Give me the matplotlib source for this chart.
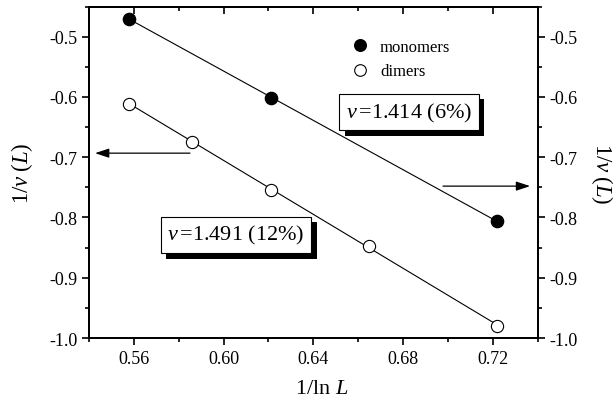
import numpy as np
import matplotlib
matplotlib.use("Agg")
import matplotlib.pyplot as plt
from matplotlib import patheffects
from matplotlib.ticker import MultipleLocator, FixedLocator

plt.rcParams['font.family'] = ['Liberation Serif', 'DejaVu Serif']
plt.rcParams['mathtext.fontset'] = 'custom'
plt.rcParams['mathtext.rm'] = 'Liberation Serif'
plt.rcParams['mathtext.it'] = 'Liberation Serif:italic'

# data
mono_x = [0.558, 0.621, 0.722]
mono_y = [-0.470, -0.602, -0.806]
dim_x = [0.558, 0.586, 0.621, 0.665, 0.722]
dim_y = [-0.611, -0.675, -0.754, -0.847, -0.980]
xticks = [0.56, 0.60, 0.64, 0.68, 0.72]
yticks = [-0.5, -0.6, -0.7, -0.8, -0.9, -1.0]
label_mono = r'$\nu\,$=1.414 (6%)'
label_dim = r'$\nu\,$=1.491 (12%)'
ylabel = r'1/$\nu\;(L)$'

fig = plt.figure(figsize=(6.14, 4.02), dpi=100)
ax = fig.add_axes([0.145, 0.1567, 0.8757 - 0.145, 0.9813 - 0.1567])

# fit lines
for xs, ys in [(mono_x, mono_y), (dim_x, dim_y)]:
    p = np.polyfit(xs, ys, 1)
    xx = np.array([min(xs), max(xs)])
    ax.plot(xx, np.polyval(p, xx), color='black', lw=0.8, zorder=2)

ax.plot(mono_x, mono_y, 'o', ms=8.8, mfc='black', mec='black', ls='none',
        label='monomers', zorder=3)
ax.plot(dim_x, dim_y, 'o', ms=8.8, mfc='white', mec='black', mew=0.8, ls='none',
        label='dimers', zorder=3)

ax.set_xlim(0.54, 0.74)
ax.set_ylim(-1.0, -0.45)
ax.xaxis.set_major_locator(FixedLocator(xticks))
ax.yaxis.set_major_locator(FixedLocator(yticks))
ax.xaxis.set_minor_locator(MultipleLocator(0.02))
ax.yaxis.set_minor_locator(MultipleLocator(0.05))
ax.set_xticklabels(['%.2f' % v for v in xticks])
ax.set_yticklabels(['%.1f' % v for v in yticks])
ax.tick_params(which='major', direction='out', length=5, width=1.2, labelsize=13)
ax.tick_params(which='minor', direction='out', length=3, width=1.2)
for s in ax.spines.values():
    s.set_linewidth(1.3)

top = ax.secondary_xaxis('top')
top.xaxis.set_major_locator(FixedLocator(xticks))
top.xaxis.set_minor_locator(MultipleLocator(0.02))
top.tick_params(which='major', direction='in', length=5, width=1.2, labeltop=False)
top.tick_params(which='minor', direction='in', length=3, width=1.2)
top.spines['top'].set_linewidth(1.3)

right = ax.twinx()
right.set_ylim(ax.get_ylim())
right.yaxis.set_major_locator(FixedLocator(yticks))
right.yaxis.set_minor_locator(MultipleLocator(0.05))
right.set_yticklabels(['%.1f' % v for v in yticks])
right.tick_params(which='major', direction='out', length=5, width=1.2, labelsize=13)
right.tick_params(which='minor', direction='out', length=3, width=1.2)
for s in right.spines.values():
    s.set_linewidth(1.3)

ax.set_xlabel(r'1/ln $L$', fontsize=16)
ax.xaxis.set_label_coords(0.519, -0.124)
ax.set_ylabel(ylabel, fontsize=16.5, labelpad=10)
right.set_ylabel(ylabel, fontsize=16.5, rotation=270, labelpad=27)

ax.legend(loc='upper left', bbox_to_anchor=(0.548, 0.947), frameon=False,
          fontsize=12, handletextpad=0.6, labelspacing=0.5, numpoints=1,
          handlelength=1.2, markerscale=0.95)

for (tx, ty, s) in [(0.6826, -0.625, label_mono), (0.6055, -0.829, label_dim)]:
    t = ax.text(tx, ty, s, fontsize=16, ha='center', va='center', zorder=5,
                bbox=dict(boxstyle='square,pad=0.3', fc='white', ec='black', lw=0.8))
    t.get_bbox_patch().set_path_effects([
        patheffects.SimplePatchShadow(offset=(4, -4), shadow_rgbFace='black', alpha=1.0),
        patheffects.Normal()])

arrow = dict(arrowstyle='-|>,head_length=0.6,head_width=0.2', lw=0.9, color='black',
             mutation_scale=14, shrinkA=0, shrinkB=0)
ax.annotate('', xy=(0.5427, -0.6933), xytext=(0.585, -0.6933), arrowprops=arrow)
ax.annotate('', xy=(0.7366, -0.748), xytext=(0.6978, -0.748), arrowprops=arrow)

fig.savefig('out.png', dpi=100)
